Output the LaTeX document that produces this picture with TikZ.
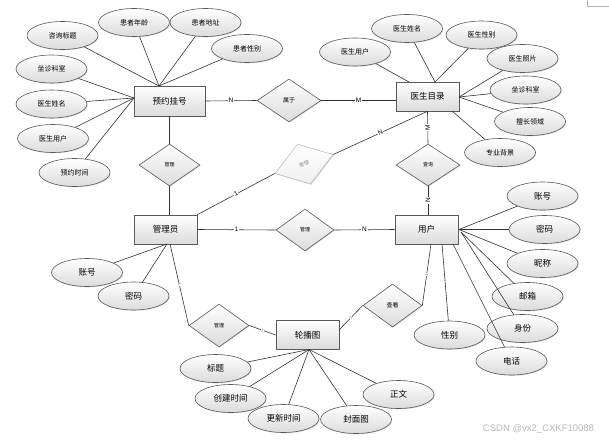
\documentclass[tikz,border=0pt]{standalone}
\usepackage{fontspec}
\newfontfamily\cjk{Noto Sans CJK SC}
\newfontfamily\lat{Liberation Sans}
\usetikzlibrary{shapes.geometric,shadows}
\begin{document}
\begin{tikzpicture}[x=1pt,y=-1pt,
  base/.style={draw=black!65, line width=0.6pt, top color=white, bottom color=black!14, inner sep=0pt,
    drop shadow={shadow xshift=0.8pt,shadow yshift=-0.8pt,opacity=0.25}},
  ent/.style={base, rectangle, minimum width=63pt, minimum height=29pt, font=\cjk\fontsize{8.5}{9}\selectfont},
  attr/.style={base, ellipse, minimum width=71pt, minimum height=28pt, font=\cjk\fontsize{7}{8}\selectfont},
  attrL/.style={attr, font=\cjk\fontsize{8.5}{9}\selectfont},
  rel/.style={base, diamond, minimum width=61pt, minimum height=42pt, font=\cjk\fontsize{5}{6}\selectfont},
  ln/.style={draw=black!80, line width=0.6pt},
  lbl/.style={fill=white, inner sep=0.8pt, font=\lat\fontsize{6.5}{7}\selectfont},
  tick/.style={fill=white, inner sep=0.3pt, font=\lat\fontsize{4}{4}\selectfont, text=black!60},
]
\useasboundingbox (0,0) rectangle (609,441);

% entities
\node[ent, minimum width=71pt, minimum height=30pt] (yy) at (169.5,101) {预约挂号};
\node[ent] (ml) at (427.5,96.5) {医生目录};
\node[ent] (gly) at (165.5,229.5) {管理员};
\node[ent] (yh) at (426.5,229.5) {用户};
\node[ent] (lbt) at (307.5,335) {轮播图};

% relationships
\node[rel, minimum width=64pt, minimum height=43pt, font=\cjk\fontsize{6}{7}\selectfont] (d1) at (289,100.5) {属于};
\node[rel] (d2) at (169.5,165) {管理};
\node[rel, minimum width=64pt] (d3) at (428,165) {查询};
\node[rel, minimum width=58pt] (d4) at (305,230) {管理};
\node[rel, minimum width=60pt, minimum height=43pt] (d5) at (219,325.5) {管理};
\node[rel, minimum width=59pt, minimum height=43pt, font=\cjk\fontsize{6}{7}\selectfont] (d6) at (392.5,305.5) {查看};
\node[rel, rotate=18, draw=black!25, top color=white, bottom color=black!6, text=black!45,
  drop shadow={shadow xshift=0.8pt,shadow yshift=-0.8pt,opacity=0.12}] (d7) at (304,164) {管理};

% attributes of 预约挂号
\node[attr] (a1) at (62.5,35.5) {咨询标题};
\node[attr] (a2) at (134,22.5) {患者年龄};
\node[attr] (a3) at (205.5,22.5) {患者地址};
\node[attr] (a4) at (247,48.5) {患者性别};
\node[attr] (a5) at (51.5,69) {坐诊科室};
\node[attr] (a6) at (51.5,104) {医生姓名};
\node[attr] (a7) at (53,138.5) {医生用户};
\node[attr] (a8) at (74.5,172.5) {预约时间};

% attributes of 医生目录
\node[attr] (b1) at (355,52) {医生用户};
\node[attr] (b2) at (407,28.5) {医生姓名};
\node[attr] (b3) at (481.5,35) {医生性别};
\node[attr] (b4) at (522.5,58.5) {医生照片};
\node[attr] (b5) at (525.5,90) {坐诊科室};
\node[attr] (b6) at (530,121.5) {擅长领域};
\node[attr] (b7) at (500,152.5) {专业背景};

% attributes of 用户
\node[attrL] (c1) at (542.5,196) {账号};
\node[attrL] (c2) at (544.5,229.5) {密码};
\node[attrL] (c3) at (542.5,263.5) {昵称};
\node[attrL] (c4) at (527.5,296.5) {邮箱};
\node[attrL] (c5) at (522.5,328.5) {身份};
\node[attrL] (c6) at (511.5,361) {电话};
\node[attrL] (c7) at (449.5,335) {性别};

% attributes of 管理员
\node[attrL] (e1) at (87,272.5) {账号};
\node[attrL] (e2) at (133.5,296) {密码};

% attributes of 轮播图
\node[attrL] (f1) at (215.5,368.5) {标题};
\node[attrL] (f2) at (230.5,398.5) {创建时间};
\node[attrL] (f3) at (283.5,418.5) {更新时间};
\node[attrL] (f4) at (356,419.5) {封面图};
\node[attrL] (f5) at (398.5,394.5) {正文};

% anchor points
\coordinate (pYT) at (159,86);
\coordinate (pYL) at (134,98);
\coordinate (pMT1) at (409,82);
\coordinate (pMT2) at (435,82);
\coordinate (pMR) at (459,97);
\coordinate (pMB) at (452,111);
\coordinate (pUR) at (459,229.5);
\coordinate (pUR2) at (461,232);
\coordinate (pUB1) at (453,244);
\coordinate (pUB2) at (442,244);
\coordinate (pGB) at (167,244);
\coordinate (pGB2) at (170,244);
\coordinate (pUB3) at (431,244);
\coordinate (pLB) at (309,349.5);
\coordinate (pLR) at (339,330);

% attribute connectors
\foreach \a in {a1,a2,a3,a4} \draw[ln] (\a) -- (pYT);
\foreach \a in {a5,a6,a7,a8} \draw[ln] (\a) -- (pYL);
\draw[ln] (b1) -- (pMT1);
\foreach \a in {b2,b3} \draw[ln] (\a) -- (pMT2);
\foreach \a in {b4,b5,b6} \draw[ln] (\a) -- (pMR);
\draw[ln] (b7) -- (pMB);
\foreach \a in {c1,c2,c3} \draw[ln] (\a) -- (pUR);
\foreach \a in {c4,c5} \draw[ln] (\a) -- (pUR2);
\draw[ln] (c6) -- (pUB1);
\draw[ln] (c7) -- (pUB2);
\foreach \a in {e1,e2} \draw[ln] (\a) -- (pGB);
\foreach \a in {f1,f2,f3,f4,f5} \draw[ln] (\a) -- (pLB);

% relationship connectors
\draw[ln] (yy.east) -- node[lbl]{N} (d1.west);
\draw[ln] (d1.east) -- node[lbl]{M} (d1.east -| ml.west);
\draw[ln] (yy.south) -- (d2.north);
\draw[ln] (d2.south) -- (d2.south |- gly.north);
\draw[ln] (ml.south) -- node[lbl, rotate=90]{M} (d3.north);
\draw[ln] (d3.south) -- node[lbl, rotate=90]{N} (d3.south |- yh.north);
\draw[ln] (gly.north east) -- node[lbl, sloped]{1} (d7.west);
\draw[ln] (d7.east) -- node[lbl, sloped]{N} (ml.south);
\draw[ln] (gly.east) -- node[lbl]{1} (d4.west);
\draw[ln] (d4.east) -- node[lbl]{N} (yh.west);
\draw[ln] (pGB2) -- node[tick, sloped]{1} (d5.west);
\draw[ln] (d5.east) -- node[tick, sloped]{1} (lbt.west);
\draw[ln] (pUB3) -- node[tick, sloped]{1} (d6.east);
\draw[ln] (d6.west) -- node[tick, sloped]{1} (pLR);

% cropped frame fragment and watermark
\draw[black!30, line width=0.5pt] (587,-2) -- (587,6) -- (612,6);
\node[font=\lat\fontsize{9.5}{10}\selectfont, text=black!28] (wm) at (538.5,429) {CSDN @vx2\_CXKF10088};
\end{tikzpicture}
\end{document}
